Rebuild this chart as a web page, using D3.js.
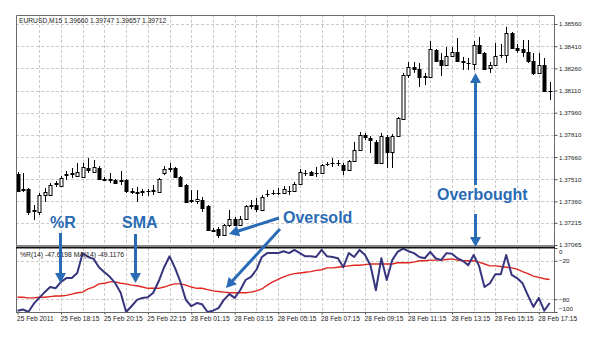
<!DOCTYPE html>
<html>
<head>
<meta charset="utf-8">
<script src="https://cdn.jsdelivr.net/npm/d3@7"></script>
<style>
  body { margin: 0; background: #fff; }
  svg { display: block; }
  text { font-family: "Liberation Sans", Arial, sans-serif; }
</style>
</head>
<body>
<svg id="chart" width="600" height="344"></svg>
<script>
// EURUSD M15 candles (25-28 Feb 2011)
const opens = [
  1.37545,1.37437,1.37444,1.37295,1.37288,1.37403,1.37403,1.37478,1.37464,1.37538,
  1.37545,1.37532,1.37525,1.37586,1.37559,1.37586,1.37511,1.37511,1.37505,1.37498,
  1.37505,1.37430,1.37423,1.37423,1.37430,1.37430,1.37423,1.37552,1.37579,1.37586,
  1.37525,1.37471,1.37369,1.37362,1.37369,1.37329,1.37166,1.37173,1.37133,1.37200,
  1.37241,1.37200,1.37241,1.37335,1.37335,1.37302,1.37410,1.37417,1.37417,1.37417,
  1.37430,1.37430,1.37478,1.37552,1.37559,1.37552,1.37552,1.37613,1.37620,1.37620,
  1.37606,1.37572,1.37633,1.37708,1.37809,1.37789,1.37762,1.37620,1.37796,1.37694,
  1.37802,1.37917,1.38215,1.38269,1.38256,1.38208,1.38201,1.38384,1.38316,1.38283,
  1.38344,1.38371,1.38310,1.38296,1.38289,1.38418,1.38364,1.38262,1.38283,1.38350,
  1.38350,1.38499,1.38398,1.38391,1.38371,1.38310,1.38229,1.38283,1.38107
];
const highs = [
  1.37559,1.37552,1.37450,1.37335,1.37417,1.37450,1.37484,1.37498,1.37532,1.37566,
  1.37586,1.37620,1.37620,1.37653,1.37640,1.37599,1.37525,1.37552,1.37511,1.37566,
  1.37511,1.37450,1.37457,1.37444,1.37444,1.37471,1.37518,1.37599,1.37620,1.37593,
  1.37532,1.37478,1.37437,1.37437,1.37390,1.37335,1.37180,1.37187,1.37207,1.37302,
  1.37254,1.37261,1.37335,1.37369,1.37383,1.37403,1.37437,1.37437,1.37450,1.37464,
  1.37464,1.37491,1.37579,1.37572,1.37566,1.37593,1.37613,1.37626,1.37653,1.37640,
  1.37620,1.37640,1.37762,1.37829,1.37823,1.37802,1.37775,1.37823,1.37809,1.37816,
  1.37931,1.38229,1.38303,1.38303,1.38296,1.38229,1.38445,1.38391,1.38364,1.38404,
  1.38404,1.38465,1.38337,1.38330,1.38445,1.38472,1.38371,1.38303,1.38431,1.38425,
  1.38540,1.38506,1.38425,1.38452,1.38452,1.38364,1.38364,1.38330,1.38168
];
const lows = [
  1.37423,1.37423,1.37268,1.37234,1.37268,1.37356,1.37396,1.37457,1.37457,1.37505,
  1.37518,1.37525,1.37518,1.37552,1.37552,1.37505,1.37498,1.37484,1.37478,1.37471,
  1.37417,1.37410,1.37356,1.37396,1.37396,1.37403,1.37417,1.37538,1.37559,1.37518,
  1.37457,1.37349,1.37349,1.37342,1.37288,1.37160,1.37153,1.37112,1.37126,1.37187,
  1.37193,1.37193,1.37234,1.37308,1.37288,1.37295,1.37390,1.37403,1.37403,1.37410,
  1.37403,1.37423,1.37471,1.37532,1.37532,1.37525,1.37545,1.37599,1.37593,1.37599,
  1.37538,1.37566,1.37626,1.37701,1.37775,1.37687,1.37613,1.37613,1.37586,1.37586,
  1.37796,1.37911,1.38195,1.38229,1.38134,1.38147,1.38195,1.38303,1.38208,1.38276,
  1.38337,1.38303,1.38249,1.38249,1.38249,1.38357,1.38249,1.38229,1.38276,1.38330,
  1.38296,1.38391,1.38364,1.38337,1.38296,1.38215,1.38222,1.38100,1.38046
];
const closes = [
  1.37430,1.37444,1.37288,1.37302,1.37403,1.37423,1.37471,1.37484,1.37518,1.37545,
  1.37552,1.37559,1.37593,1.37572,1.37593,1.37511,1.37505,1.37505,1.37484,1.37505,
  1.37430,1.37423,1.37420,1.37430,1.37433,1.37437,1.37511,1.37579,1.37586,1.37525,
  1.37464,1.37356,1.37366,1.37376,1.37315,1.37166,1.37163,1.37133,1.37200,1.37241,
  1.37200,1.37241,1.37329,1.37332,1.37308,1.37390,1.37413,1.37414,1.37420,1.37444,
  1.37427,1.37478,1.37559,1.37555,1.37538,1.37549,1.37606,1.37616,1.37617,1.37623,
  1.37572,1.37633,1.37708,1.37809,1.37796,1.37775,1.37620,1.37802,1.37694,1.37802,
  1.37924,1.38215,1.38269,1.38256,1.38201,1.38201,1.38391,1.38310,1.38283,1.38344,
  1.38371,1.38310,1.38303,1.38293,1.38418,1.38364,1.38256,1.38283,1.38344,1.38353,
  1.38499,1.38398,1.38384,1.38371,1.38310,1.38229,1.38283,1.38107,1.38104
];

// Williams %R(14) and its 14-period moving average
const percentR = [
  -98,-96,-100,-87,-78,-69,-61,-63,-53,-47,
  -47,-39,-8,-14,-17,-30,-38,-45,-55,-70,
  -100,-91,-81,-78,-77,-70,-52,-30,-13,-31,
  -53,-81,-91,-86,-88,-100,-98,-94,-81,-72,
  -78,-66,-50,-45,-34,-14,-8,-8,-8,-5,
  -8,-3,-8,-13,-13,-14,-3,-13,-14,-16,
  -30,-8,-14,-3,-11,-27,-66,-16,-50,-19,
  -6,-1,-5,-8,-14,-16,-6,-16,-19,-8,
  -9,-16,-20,-27,-11,-28,-61,-55,-41,-41,
  -11,-42,-47,-55,-74,-92,-78,-98,-86
];
const percentRMA = [
  -77,-77,-78,-78,-77,-77,-76,-75,-75,-74,
  -72,-70,-69,-64,-61,-56,-55,-53,-53,-55,
  -56,-58,-59,-61,-63,-63,-63,-61,-58,-56,
  -56,-58,-61,-63,-63,-65,-67,-68,-69,-70,
  -70,-70,-70,-69,-67,-64,-58,-53,-49,-45,
  -42,-40,-39,-38,-37,-35,-34,-31,-31,-30,
  -29,-28,-27,-27,-26,-25,-25,-25,-25,-25,
  -23,-23,-23,-22,-20,-20,-19,-19,-19,-18,
  -17,-19,-20,-20,-20,-22,-25,-28,-28,-29,
  -30,-31,-33,-37,-40,-44,-46,-48,-49.1176
];

const priceTicks = [1.38560,1.38410,1.38260,1.38110,1.37960,1.37810,1.37660,1.37510,1.37360,1.37215,1.37065];
const rTicks = [0,-20,-80,-100];
const rGridLevels = [-20,-80];
const timeLabels = ["25 Feb 2011","25 Feb 18:15","25 Feb 20:15","25 Feb 22:15","28 Feb 01:15","28 Feb 03:15",
  "28 Feb 05:15","28 Feb 07:15","28 Feb 09:15","28 Feb 11:15","28 Feb 13:15","28 Feb 15:15","28 Feb 17:15"];
const chartTitle = "EURUSD,M15  1.39660 1.39747 1.39657 1.39712";
const indicatorTitle = "%R(14) -47.6198  MA(14) -49.1176";

// ---- layout ----
const L = 16, R = 554, T = 15, mainB = 246, subT = 248, subB = 312.5;
const blue = "#2a6bb5";
const svg = d3.select("#chart");
const n = closes.length;

const x = d3.scaleLinear().domain([-0.28, 98.8]).range([L, R]);
const yP = d3.scaleLinear().domain([1.37065, 1.38560]).range([245, 24]);
const yR = d3.scaleLinear().domain([-100, 0]).range([312, 248]);
const px = v => Math.round(v) + 0.5;

svg.append("rect").attr("width", 600).attr("height", 344).attr("fill", "#fff");

const defs = svg.append("defs");
defs.append("clipPath").attr("id", "mainClip").append("rect")
  .attr("x", L).attr("y", T).attr("width", R - L).attr("height", mainB - T);
defs.append("clipPath").attr("id", "subClip").append("rect")
  .attr("x", L).attr("y", subT).attr("width", R - L).attr("height", subB - subT);

// ---- grid ----
const grid = svg.append("g").attr("stroke", "#cbcbcb").attr("stroke-width", 1)
  .attr("stroke-dasharray", "3,2").attr("fill", "none");
priceTicks.forEach(t => {
  grid.append("line").attr("x1", L).attr("x2", R).attr("y1", px(yP(t))).attr("y2", px(yP(t)));
});
rGridLevels.forEach(t => {
  grid.append("line").attr("x1", L).attr("x2", R).attr("y1", px(yR(t))).attr("y2", px(yR(t)));
});
d3.range(4, n, 4).forEach(i => {
  grid.append("line").attr("x1", px(x(i))).attr("x2", px(x(i))).attr("y1", T).attr("y2", mainB);
  grid.append("line").attr("x1", px(x(i))).attr("x2", px(x(i))).attr("y1", subT).attr("y2", subB);
});

// ---- candles ----
const candles = svg.append("g").attr("clip-path", "url(#mainClip)");
d3.range(n).forEach(i => {
  const cx = px(x(i));
  const g = candles.append("g");
  g.append("line").attr("x1", cx).attr("x2", cx)
    .attr("y1", yP(highs[i])).attr("y2", yP(lows[i]))
    .attr("stroke", "#000").attr("stroke-width", 1);
  const up = closes[i] >= opens[i];
  const top = px(yP(Math.max(opens[i], closes[i])));
  const bot = px(yP(Math.min(opens[i], closes[i])));
  if (bot - top < 1) {
    g.append("line").attr("x1", cx - 2).attr("x2", cx + 2).attr("y1", top).attr("y2", top)
      .attr("stroke", "#000").attr("stroke-width", 1);
  } else {
    g.append("rect").attr("x", cx - 1.5).attr("y", top).attr("width", 3).attr("height", bot - top)
      .attr("fill", up ? "#fff" : "#000").attr("stroke", "#000").attr("stroke-width", 1);
  }
});

// ---- indicator lines ----
const sub = svg.append("g").attr("clip-path", "url(#subClip)");
const line = d3.line().x((d, i) => x(i)).y(d => yR(d));
sub.append("path").datum(percentRMA).attr("d", line)
  .attr("fill", "none").attr("stroke", "#e0261e").attr("stroke-width", 1.4);
sub.append("path").datum(percentR).attr("d", line)
  .attr("fill", "none").attr("stroke", "#38357f").attr("stroke-width", 2).attr("stroke-linejoin", "round");

// ---- frames ----
const frame = svg.append("g").attr("fill", "none");
frame.append("path").attr("d", `M${L + 0.5},${mainB}V${T + 0.5}H${R + 0.5}V${subB}`)
  .attr("stroke", "#6a6a6a").attr("stroke-width", 1);
frame.append("line").attr("x1", L + 0.5).attr("x2", L + 0.5).attr("y1", subT).attr("y2", subB)
  .attr("stroke", "#6a6a6a");
frame.append("line").attr("x1", L).attr("x2", R + 1).attr("y1", subB).attr("y2", subB)
  .attr("stroke", "#6a6a6a");
frame.append("line").attr("x1", L).attr("x2", R + 1).attr("y1", 245.5).attr("y2", 245.5)
  .attr("stroke", "#888");
frame.append("line").attr("x1", L).attr("x2", R + 1).attr("y1", 247.5).attr("y2", 247.5)
  .attr("stroke", "#111").attr("stroke-width", 2);

// ---- axes ----
const axisFont = size => g => g.selectAll("text").attr("font-size", size).attr("fill", "#222")
  .attr("font-family", "'Liberation Sans', Arial, sans-serif");

const priceAxis = svg.append("g").attr("transform", `translate(${R + 0.5},0)`)
  .call(d3.axisRight(yP).tickValues(priceTicks).tickSize(3).tickPadding(1.5).tickFormat(d3.format(".5f")));
priceAxis.select(".domain").remove();
priceAxis.selectAll("line").attr("stroke", "#555");
priceAxis.call(axisFont(6.2));

const rAxis = svg.append("g").attr("transform", `translate(${R + 0.5},0)`)
  .call(d3.axisRight(yR).tickValues(rTicks).tickSize(3).tickPadding(1.5).tickFormat(d3.format("d")));
rAxis.select(".domain").remove();
rAxis.selectAll("line").attr("stroke", "#555");
rAxis.call(axisFont(6.2));
rAxis.selectAll(".tick text").attr("dy", d => d === 0 ? "0.85em" : d === -100 ? "-0.25em" : "0.32em");

const timeAxis = svg.append("g").attr("transform", `translate(0,${subB})`)
  .call(d3.axisBottom(x).tickValues(d3.range(0, n, 8)).tickSize(2).tickPadding(2)
    .tickFormat((d, k) => timeLabels[k]));
timeAxis.select(".domain").remove();
timeAxis.selectAll("line").attr("stroke", "#555");
timeAxis.call(axisFont(6.6));
timeAxis.selectAll("text").attr("text-anchor", "start").attr("dx", -1);

// ---- titles ----
svg.append("text").attr("x", 19).attr("y", 23).attr("font-size", 6.7).attr("fill", "#222").text(chartTitle);
svg.append("text").attr("x", 20).attr("y", 257).attr("font-size", 6.8).attr("fill", "#222").text(indicatorTitle);

// ---- callouts ----
const notes = svg.append("g");
function arrow(x1, y1, x2, y2) {
  const dx = x2 - x1, dy = y2 - y1, len = Math.hypot(dx, dy);
  const ux = dx / len, uy = dy / len, hl = 10, hw = 5.5;
  const bx = x2 - ux * hl, by = y2 - uy * hl;
  notes.append("line").attr("x1", x1).attr("y1", y1).attr("x2", bx + ux).attr("y2", by + uy)
    .attr("stroke", blue).attr("stroke-width", 3);
  notes.append("path")
    .attr("d", `M${x2},${y2}L${bx - uy * hw},${by + ux * hw}L${bx + uy * hw},${by - ux * hw}Z`)
    .attr("fill", blue);
}
function label(txt, tx, ty) {
  notes.append("text").attr("x", tx).attr("y", ty)
    .attr("font-size", 16).attr("font-weight", "bold").attr("fill", blue).text(txt);
}
label("%R", 50, 228);
arrow(60.5, 233, 60.5, 283);
label("SMA", 122, 228);
arrow(135.5, 234, 135.5, 283);
label("Oversold", 283, 223);
arrow(279, 218, 229, 234);
arrow(280, 229, 226, 288);
label("Overbought", 437, 200);
arrow(475.5, 185, 475.5, 73);
arrow(475.5, 214, 475.5, 247);
</script>
</body>
</html>
